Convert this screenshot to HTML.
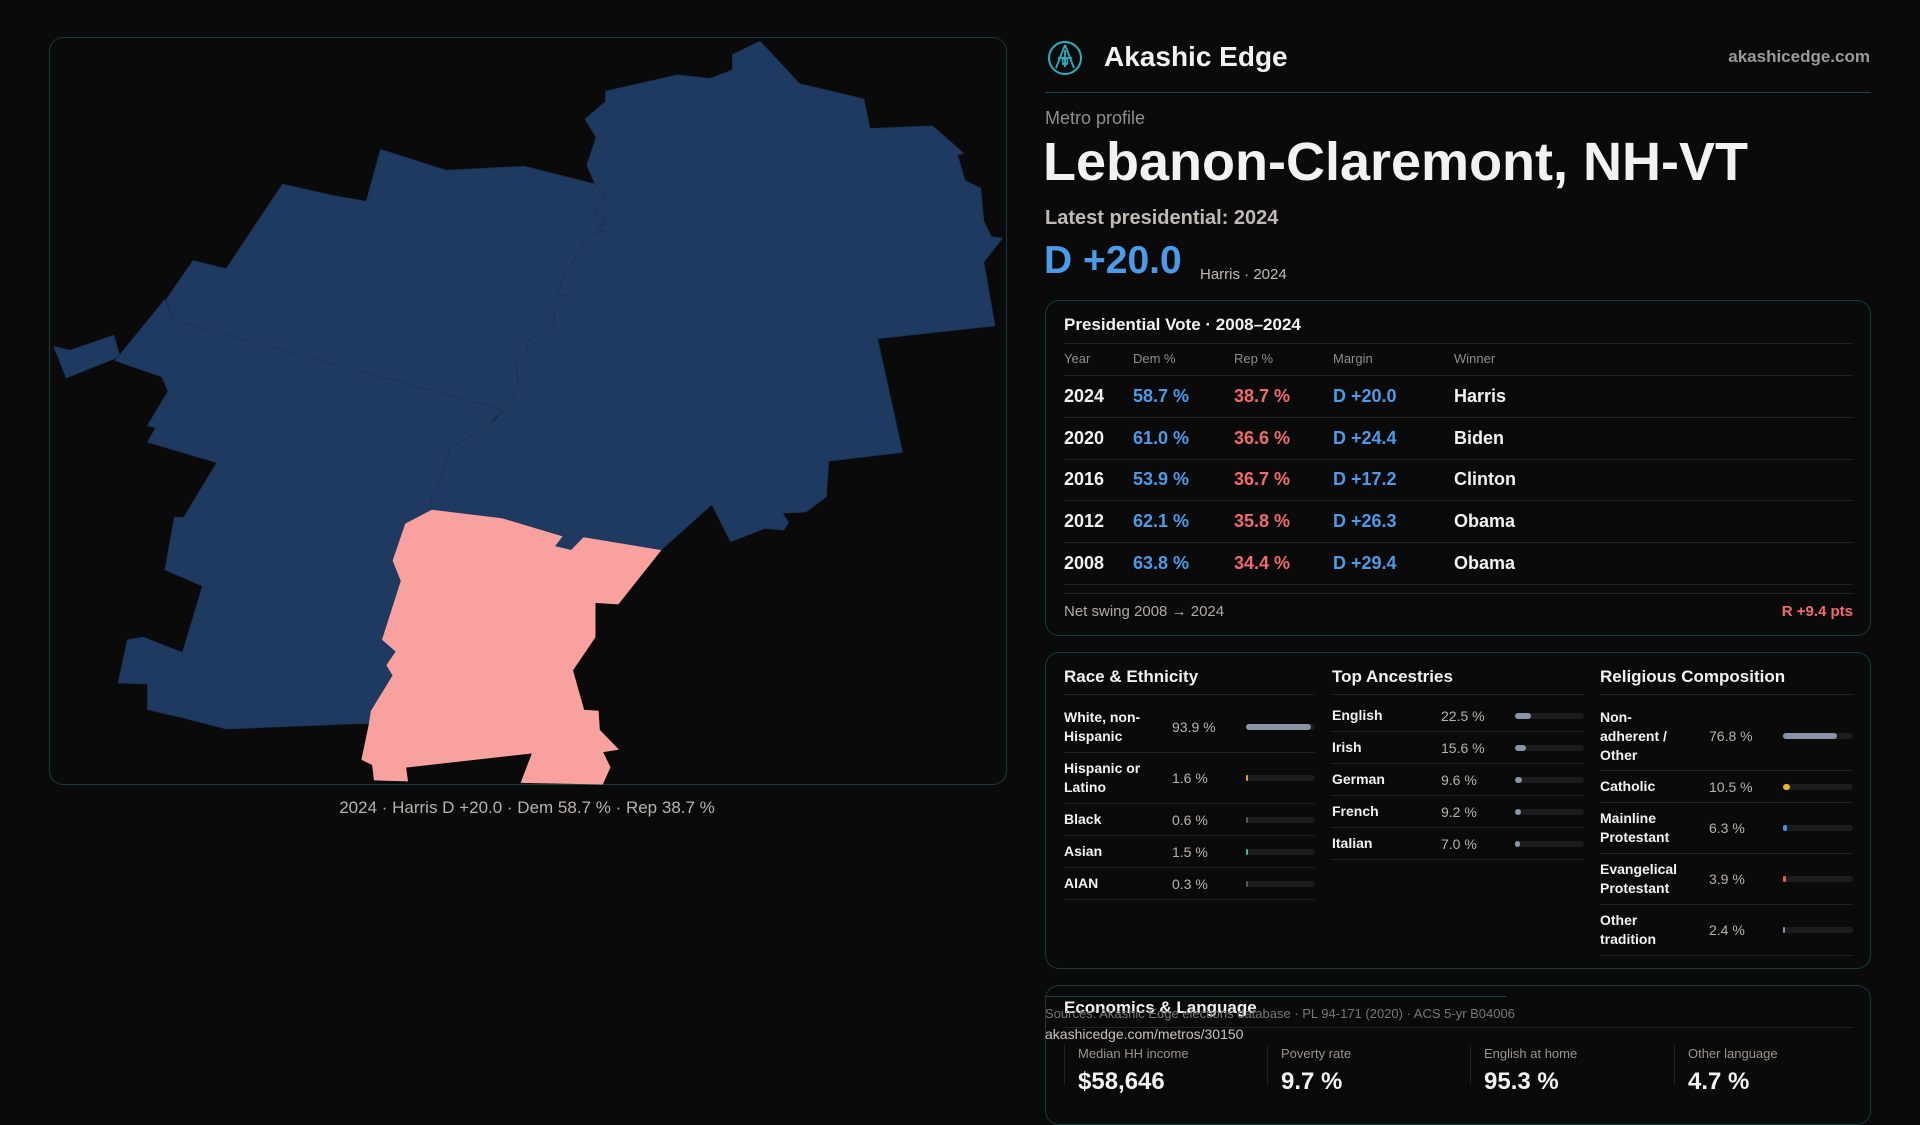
<!DOCTYPE html>
<html><head><meta charset="utf-8"><style>
*{margin:0;padding:0;box-sizing:border-box}
body{width:1920px;height:1080px;background:#0b0a0b;font-family:"Liberation Sans",sans-serif;color:#f2f2f2;position:relative;overflow:hidden}
.a{position:absolute;white-space:nowrap}
.card{position:absolute;border:1px solid rgba(40,120,130,0.45);border-radius:14px;background:#0a0a0b}
.hl{position:absolute;height:1px;background:#222}
.g{color:#8e8e8e}.b{color:#4b9be8}.r{color:#f26b6b}
</style></head><body>
<div class="card" style="left:49px;top:37px;width:958px;height:748px"></div>
<svg class="a" style="left:0;top:0" width="1040" height="820">
<g id="mapg" transform="translate(40,30) scale(0.625,0.5102)"></g>
</svg>
<div class="a g" style="left:0;width:1054px;text-align:center;top:797px;font-size:17px;line-height:22px;color:#b8b2aa">2024 · Harris D +20.0 · Dem 58.7 % · Rep 38.7 %</div>

<svg class="a" style="left:1047px;top:40px" width="36" height="36" viewBox="0 0 36 36">
<circle cx="18" cy="18" r="16" fill="none" stroke="#2bb0c0" stroke-width="2"/>
<path d="M18 5 L9 28 M18 5 L27 28 M11 18 L25 18 M18 10 L18 27 M15 24 L21 24" stroke="#2bb0c0" stroke-width="1.8" fill="none"/>
<circle cx="18" cy="21" r="2.5" fill="none" stroke="#2bb0c0" stroke-width="1.5"/>
</svg>
<div class="a" style="left:1104px;top:39px;font-size:28px;line-height:36px;font-weight:bold">Akashic Edge</div>
<div class="a g" style="right:50px;top:46px;font-size:17px;line-height:22px;font-weight:bold;color:#9a9a9a">akashicedge.com</div>
<div class="hl" style="left:1045px;top:92px;width:826px;background:#17454c"></div>
<div class="a g" style="left:1045px;top:106px;font-size:18px;line-height:24px">Metro profile</div>
<div class="a" style="left:1043px;top:132px;font-size:54px;line-height:60px;font-weight:bold">Lebanon-Claremont, NH-VT</div>
<div class="a" style="left:1045px;top:205px;font-size:20px;line-height:26px;color:#c0bab2;font-weight:bold">Latest presidential: 2024</div>
<div class="a b" style="left:1044px;top:237px;font-size:39px;line-height:48px;font-weight:bold">D +20.0</div>
<div class="a" style="left:1200px;top:265px;font-size:15px;line-height:20px;color:#c0bab2">Harris · 2024</div>

<div class="card" style="left:1045px;top:300px;width:826px;height:336px"></div>
<div class="a" style="left:1064px;top:314px;font-size:17px;line-height:22px;font-weight:bold">Presidential Vote · 2008–2024</div>
<div class="hl" style="left:1064px;top:343px;width:789px"></div>
<div id="tbl"></div>
<div class="a g" style="left:1064px;top:602px;font-size:15px;line-height:20px;color:#b0aaa2">Net swing 2008 → 2024</div>
<div class="a r" style="right:67px;top:602px;font-size:15px;line-height:20px;font-weight:bold">R +9.4 pts</div>

<div class="card" style="left:1045px;top:652px;width:826px;height:317px"></div>
<div class="a" style="left:1064px;top:666px;font-size:17px;line-height:22px;font-weight:bold">Race &amp; Ethnicity</div>
<div class="a" style="left:1332px;top:666px;font-size:17px;line-height:22px;font-weight:bold">Top Ancestries</div>
<div class="a" style="left:1600px;top:666px;font-size:17px;line-height:22px;font-weight:bold">Religious Composition</div>
<div class="hl" style="left:1064px;top:694px;width:251px"></div>
<div class="hl" style="left:1332px;top:694px;width:252px"></div>
<div class="hl" style="left:1600px;top:694px;width:253px"></div>
<div id="bars"></div>

<div class="card" style="left:1045px;top:985px;width:826px;height:140px"></div>
<div class="a" style="left:1064px;top:997px;font-size:17px;line-height:22px;font-weight:bold">Economics &amp; Language</div>
<div class="hl" style="left:1064px;top:1027px;width:789px"></div>
<div class="hl" style="left:1045px;top:996px;width:462px;background:#1d3c44"></div>
<div class="a" style="left:1045px;top:1005px;font-size:13px;line-height:17px;color:#7a7670">Sources: Akashic Edge elections database · PL 94-171 (2020) · ACS 5-yr B04006</div>
<div class="a" style="left:1045px;top:1025px;font-size:14px;line-height:18px;color:#c8c2ba">akashicedge.com/metros/30150</div>
<div id="econ"></div>

<script>
// ---- map data ----
const counties = ['Orange VT','Windsor VT','Grafton NH','Sullivan NH','Windsor islet'];
const winners = ['D','D','D','R','D'];
const shapes = [
"202,528 245,452 298,468 388,302 463,323 522,336 545,234 650,275 775,267 888,302 905,330 885,360 905,372 893,392 905,395 880,400 850,460 840,470 828,520 850,520 825,545 822,575 778,612 780,630 762,650 765,700 742,745 215,570",
"120,648 200,528 215,570 742,745 728,760 720,775 655,820 640,890 625,920 627,941 585,968 565,1040 578,1080 548,1195 570,1218 555,1245 565,1265 530,1335 527,1360 500,1360 298,1370 228,1348 172,1332 172,1282 125,1280 140,1195 165,1190 228,1220 260,1090 200,1058 215,955 230,955 283,848 172,808 185,780 172,775 205,708 195,680",
"888,302 875,265 890,210 872,175 905,140 905,120 1020,88 1072,95 1108,78 1108,48 1152,22 1215,105 1318,135 1328,193 1428,188 1478,242 1468,245 1480,295 1505,310 1510,375 1522,405 1540,408 1510,455 1528,580 1340,605 1380,828 1262,845 1258,915 1225,945 1188,947 1198,965 1190,980 1160,977 1105,1003 1075,930 993,1020 870,995 850,1020 823,1012 835,993 740,958 627,941 625,920 640,890 655,820 720,775 742,745 765,700 762,650 780,630 778,612 822,575 825,545 850,520 828,520 840,470 850,460 880,400 905,395 893,392 905,372 885,360 905,330",
"627,941 740,958 835,993 823,1012 850,1020 870,995 993,1020 925,1125 888,1122 888,1190 852,1255 870,1333 893,1335 895,1372 925,1410 900,1415 912,1445 900,1478 770,1475 788,1417 585,1445 588,1472 535,1470 532,1440 515,1430 527,1360 530,1335 565,1265 555,1245 570,1218 548,1195 578,1080 565,1040 585,968",
"22,620 48,628 118,598 128,640 42,682"
];
const mg=document.getElementById('mapg');
shapes.forEach((s,i)=>{
  const p=document.createElementNS('http://www.w3.org/2000/svg','polygon');
  p.setAttribute('points',s);
  p.setAttribute('fill',winners[i]==='D'?'#1f3a60':'#f9a19f');
  p.setAttribute('stroke',winners[i]==='D'?'#1a3153':'#f9a19f');
  p.setAttribute('stroke-width','1.5');
  
  
  mg.appendChild(p);
});

// ---- table data ----
const years=['2024','2020','2016','2012','2008'];
const dem=[58.7,61.0,53.9,62.1,63.8];
const rep=[38.7,36.6,36.7,35.8,34.4];
const winnerNames=['Harris','Biden','Clinton','Obama','Obama'];
const tbl=document.getElementById('tbl');
let h='';
const hdr=['Year','Dem %','Rep %','Margin','Winner'],cx=[1064,1133,1234,1333,1454];
hdr.forEach((t,i)=>{h+=`<div class="a g" style="left:${cx[i]}px;top:350px;font-size:13px;line-height:17px">${t}</div>`});
h+=`<div class="hl" style="left:1064px;top:375px;width:789px"></div>`;
const rowY=[396,438,479,521,563];
years.forEach((y,i)=>{
  const t=rowY[i]-11, m=(dem[i]-rep[i]);
  h+=`<div class="a" style="left:1064px;top:${t}px;font-size:18px;line-height:22px;font-weight:bold">${y}</div>`;
  h+=`<div class="a b" style="left:1133px;top:${t}px;font-size:18px;line-height:22px;font-weight:bold">${dem[i].toFixed(1)} %</div>`;
  h+=`<div class="a r" style="left:1234px;top:${t}px;font-size:18px;line-height:22px;font-weight:bold">${rep[i].toFixed(1)} %</div>`;
  h+=`<div class="a b" style="left:1333px;top:${t}px;font-size:18px;line-height:22px;font-weight:bold">${m>=0?'D':'R'} +${Math.abs(m).toFixed(1)}</div>`;
  h+=`<div class="a" style="left:1454px;top:${t}px;font-size:18px;line-height:22px;font-weight:bold">${winnerNames[i]}</div>`;
  h+=`<div class="hl" style="left:1064px;top:${rowY[i]+21}px;width:789px"></div>`;
});
h+=`<div class="hl" style="left:1064px;top:593px;width:789px"></div>`;
tbl.innerHTML=h;

// ---- bar data ----
const raceLabels=['White, non-<br>Hispanic','Hispanic or<br>Latino','Black','Asian','AIAN'];
const raceValues=[93.9,1.6,0.6,1.5,0.3];
const raceColors=['#8a94a6','#e0a030','#555','#35c08a','#555'];
const ancLabels=['English','Irish','German','French','Italian'];
const ancValues=[22.5,15.6,9.6,9.2,7.0];
const relLabels=['Non-<br>adherent /<br>Other','Catholic','Mainline<br>Protestant','Evangelical<br>Protestant','Other<br>tradition'];
const relValues=[76.8,10.5,6.3,3.9,2.4];
const relColors=['#8a94a6','#e8b62a','#4b8fe0','#e85a5a','#8a94a6'];
const bars=document.getElementById('bars');
function group(x0,labels,values,colors,lines,valX,barX,barW,w,name,pad){
  let y=694;
  labels.forEach((lab,i)=>{
    const n=lines[i], hgt=(n===1?31:(n===2?50:68))+(i===0?pad:0);
    const cy=y+hgt/2+(i===0?pad/2:0);
    const row=document.createElement('div');
    
    
    row.innerHTML=`<div class="a" style="left:${x0}px;top:${cy-n*9.5}px;font-size:14px;line-height:19px;font-weight:bold">${lab}</div>`+
      `<div class="a" style="left:${valX}px;top:${cy-9}px;font-size:14px;line-height:18px;color:#b8b2aa">${values[i].toFixed(1)} %</div>`+
      `<div class="a" style="left:${barX}px;top:${cy-3}px;width:${barW}px;height:6px;border-radius:3px;background:#1c1c1f"></div>`+
      `<div class="a" style="left:${barX}px;top:${cy-3}px;width:${Math.max(2,barW*values[i]/100)}px;height:6px;border-radius:3px;background:${colors[i]}"></div>`+
      `<div class="hl" style="left:${x0}px;top:${y+hgt}px;width:${w}px"></div>`;
    bars.appendChild(row);
    y+=hgt+1;
  });
}
group(1064,raceLabels,raceValues,raceColors,[2,2,1,1,1],1172,1246,69,251,'race',8);
group(1332,ancLabels,ancValues,ancValues.map(()=>'#8a94a6'),[1,1,1,1,1],1441,1515,69,252,'ancestry',6);
group(1600,relLabels,relValues,relColors,[3,1,2,2,2],1709,1783,70,253,'religion',8);

// ---- economics ----
const econLabels=['Median HH income','Poverty rate','English at home','Other language'];
const econValues=['$58,646','9.7 %','95.3 %','4.7 %'];
const econX=[1064,1267,1470,1674];
const econ=document.getElementById('econ');
econLabels.forEach((l,i)=>{
  const d=document.createElement('div');
  
  
  d.innerHTML=`<div class="a" style="left:${econX[i]}px;top:1045px;width:1px;height:40px;background:#222"></div>`+
   `<div class="a g" style="left:${econX[i]+14}px;top:1045px;font-size:13px;line-height:17px;color:#9a948c">${l}</div>`+
   `<div class="a" style="left:${econX[i]+14}px;top:1068px;font-size:24px;line-height:28px;font-weight:bold">${econValues[i]}</div>`;
  econ.appendChild(d);
});
</script>
</body></html>
